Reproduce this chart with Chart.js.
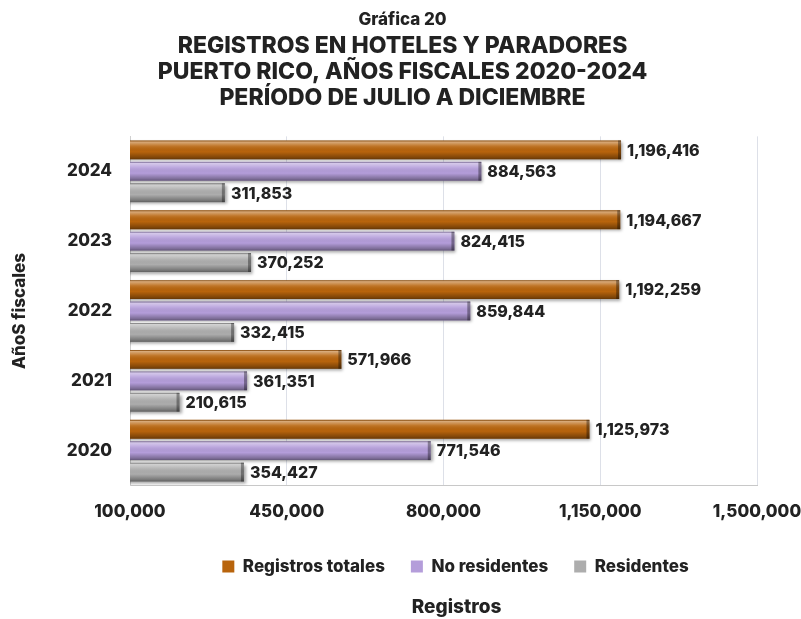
<!DOCTYPE html>
<html>
<head>
<meta charset="utf-8">
<script src="https://cdn.jsdelivr.net/npm/chart.js@4.4.0/dist/chart.umd.min.js"></script>
<style>
  html, body { margin: 0; padding: 0; background: #fff; }
  #wrap { width: 801px; height: 619px; position: relative; }
</style>
</head>
<body>
<div id="wrap"><canvas id="registrosChart"></canvas></div>
<script>
// Data
const years = ['2024', '2023', '2022', '2021', '2020'];
const registrosTotales = [1196416, 1194667, 1192259, 571966, 1125973];
const noResidentes = [884563, 824415, 859844, 361351, 771546];
const residentes = [311853, 370252, 332415, 210615, 354427];
const xTicks = [100000, 450000, 800000, 1150000, 1500000];

const FONT = 'Inter, "Open Sans", sans-serif';
const fmt = v => v.toLocaleString('en-US');

// Bevel / shadow on each bar, plus value labels
const barStyle = {
    id: 'barStyle',
    afterLayout(chart) {
        // nudge the legend a little to the right, like the original
        const lg = chart.legend;
        if (lg && !lg._shifted) {
            const orig = lg.draw.bind(lg);
            lg.draw = function() {
                chart.ctx.save();
                chart.ctx.translate(12, 0);
                orig();
                chart.ctx.restore();
            };
            lg._shifted = true;
        }
    },
    beforeDatasetDraw(chart) {
        const ctx = chart.ctx;
        ctx.save();
        ctx.shadowColor = 'rgba(0,0,0,0.35)';
        ctx.shadowBlur = 3;
        ctx.shadowOffsetX = 2;
        ctx.shadowOffsetY = 2;
    },
    afterDatasetDraw(chart) {
        chart.ctx.restore();
    },
    afterDatasetsDraw(chart) {
        const ctx = chart.ctx;
        const area = chart.chartArea;
        chart.data.datasets.forEach((ds, i) => {
            const meta = chart.getDatasetMeta(i);
            meta.data.forEach((bar, j) => {
                const top = bar.y - bar.height / 2;
                const left = Math.max(area.left, Math.min(bar.base, bar.x));
                const w = bar.x - left;
                const g = ctx.createLinearGradient(0, top, 0, top + bar.height);
                g.addColorStop(0, 'rgba(0,0,0,0.25)');
                g.addColorStop(0.08, 'rgba(255,255,255,0.45)');
                g.addColorStop(0.3, 'rgba(255,255,255,0.12)');
                g.addColorStop(0.6, 'rgba(0,0,0,0)');
                g.addColorStop(0.9, 'rgba(0,0,0,0.3)');
                g.addColorStop(1, 'rgba(0,0,0,0.45)');
                ctx.fillStyle = g;
                ctx.fillRect(left, top, w, bar.height);
                ctx.fillStyle = 'rgba(0,0,0,0.35)';
                ctx.fillRect(bar.x - 3, top, 3, bar.height);

                // value label
                ctx.fillStyle = '#222';
                ctx.font = '800 16px ' + FONT;
                ctx.textAlign = 'left';
                ctx.textBaseline = 'middle';
                ctx.fillText(fmt(ds.data[j]), bar.x + 6, bar.y + 1);
            });
        });
    },
    afterDraw(chart) {
        const ctx = chart.ctx;
        const area = chart.chartArea;
        ctx.save();
        ctx.fillStyle = '#222';
        ctx.font = '800 19px ' + FONT;
        ctx.textAlign = 'center';
        ctx.textBaseline = 'middle';
        ctx.fillText('Registros', (area.left + area.right) / 2 + 13, chart.height - 12);
        ctx.restore();
    }
};

const ctx = document.getElementById('registrosChart').getContext('2d');

new Chart(ctx, {
    type: 'bar',
    data: {
        labels: years,
        datasets: [
            { label: 'Registros totales', data: registrosTotales, backgroundColor: '#B8640C' },
            { label: 'No residentes', data: noResidentes, backgroundColor: '#B49DDA' },
            { label: 'Residentes', data: residentes, backgroundColor: '#ADADAD' }
        ]
    },
    options: {
        indexAxis: 'y',
        responsive: true,
        maintainAspectRatio: false,
        animation: false,
        categoryPercentage: 0.92,
        barPercentage: 0.88,
        layout: {
            padding: { top: 0, right: 0, bottom: 34, left: 4 }
        },
        plugins: {
            title: {
                display: true,
                text: 'Gráfica 20',
                color: '#222',
                font: { family: FONT, size: 17, weight: '800' },
                padding: { top: 10, bottom: 3 }
            },
            subtitle: {
                display: true,
                text: [
                    'REGISTROS EN HOTELES Y PARADORES',
                    'PUERTO RICO, AÑOS FISCALES 2020-2024',
                    'PERÍODO DE JULIO A DICIEMBRE'
                ],
                color: '#222',
                font: { family: FONT, size: 23, weight: '800', lineHeight: 1.13 },
                padding: { top: 0, bottom: 25 }
            },
            legend: {
                position: 'bottom',
                fullSize: false,
                labels: {
                    boxWidth: 12,
                    boxHeight: 12,
                    padding: 26,
                    color: '#222',
                    font: { family: FONT, size: 17, weight: '800' }
                }
            },
            tooltip: { enabled: false }
        },
        scales: {
            x: {
                min: 100000,
                max: 1500000,
                afterBuildTicks: axis => { axis.ticks = xTicks.map(v => ({ value: v })); },
                afterFit: axis => {
                    axis.height -= 6;
                    axis.paddingLeft = 0;
                    axis.paddingRight = 44;
                },
                grid: { color: '#DDE0E8', drawTicks: false },
                border: { color: '#C8C8C8' },
                ticks: {
                    padding: 16,
                    color: '#222',
                    font: { family: FONT, size: 17, weight: '800' },
                    callback: v => fmt(v)
                }
            },
            y: {
                afterFit: axis => { axis.width = 126; },
                grid: { display: false, drawTicks: false },
                border: { color: '#D0D0D0' },
                ticks: {
                    padding: 18,
                    color: '#222',
                    font: { family: FONT, size: 17, weight: '800' }
                },
                title: {
                    display: true,
                    text: 'AñoS fiscales',
                    color: '#222',
                    font: { family: FONT, size: 17, weight: '800' },
                    padding: { top: 6, bottom: 20 }
                }
            }
        }
    },
    plugins: [barStyle]
});
</script>
</body>
</html>
